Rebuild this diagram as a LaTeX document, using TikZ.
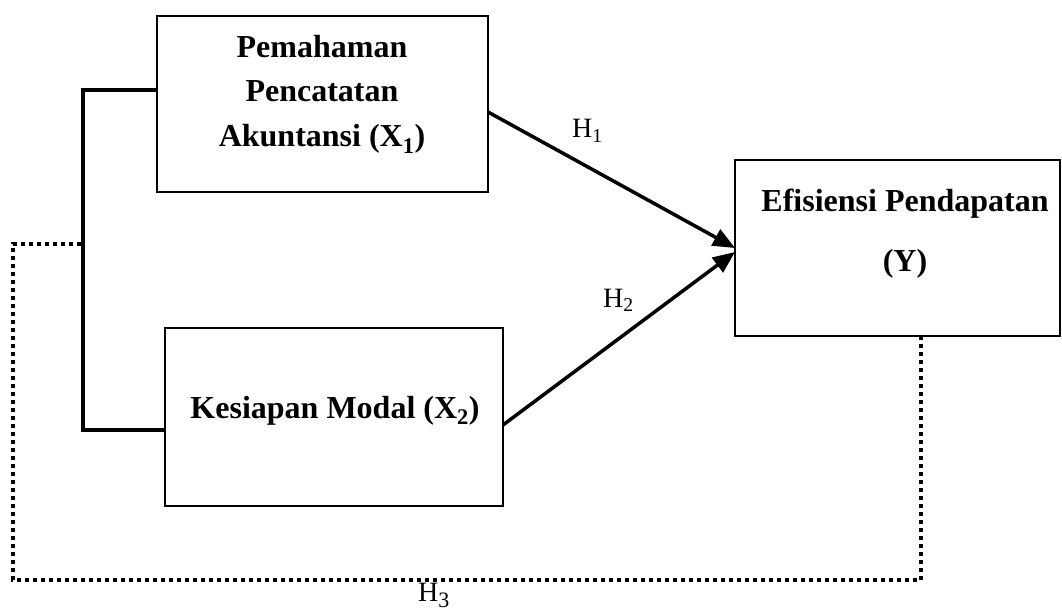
\documentclass[tikz,border=0pt]{standalone}
\usepackage{fontspec}
\setmainfont{Liberation Serif}
\usetikzlibrary{arrows.meta}
\begin{document}
\begin{tikzpicture}[x=1pt,y=-1pt,
  box/.style={draw,line width=2.5pt,minimum width=#1,inner sep=0pt,outer sep=0pt},
  boxtxt/.style={anchor=base,inner sep=0pt,font=\fontsize{32}{32}\selectfont\bfseries},
  hyp/.style={anchor=base west,inner sep=0pt,font=\fontsize{28}{28}\selectfont},
  conn/.style={line width=3.5pt},
  arr/.style={line width=3.5pt,-{Triangle[length=22pt,width=18pt]}},
  dots/.style={line width=4pt,dash pattern=on 4pt off 4pt}]
\useasboundingbox (0,0) rectangle (1062,612);
% boxes
\node[box=331pt,minimum height=176pt] (x1) at (322.5,104) {};
\node[box=338pt,minimum height=178pt] (x2) at (334,417) {};
\node[box=325pt,minimum height=176pt] (y) at (897.5,248) {};
% box texts
\node[boxtxt] (x1a) at (322,58) {Pemahaman};
\node[boxtxt] (x1b) at (322,102) {Pencatatan};
\node[boxtxt] (x1c) at (322,147) {Akuntansi (X\textsubscript{1})};
\node[boxtxt] (x2a) at (335,418) {Kesiapan Modal (X\textsubscript{2})};
\node[boxtxt] (ya) at (905,212) {Efisiensi Pendapatan};
\node[boxtxt] (yb) at (905,272) {(Y)};
% bracket
\coordinate (bt) at (83,90);
\coordinate (bb) at (83,430);
\draw[conn] ([yshift=14pt]x1.west) -- (bt) -- (bb) -- ([yshift=-13pt]x2.west);
% arrows
\draw[arr] ([yshift=-8pt]x1.east) -- (y.west);
\draw[arr] ([yshift=-8pt]x2.east) -- ([yshift=-4pt]y.west);
% dotted
\coordinate (d1) at (921,580);
\coordinate (d2) at (13,580);
\coordinate (d3) at (13,244);
\coordinate (d4) at (83,244);
\draw[dots] ([xshift=23.5pt]y.south) -- (d1) -- (d2) -- (d3) -- (d4);
% labels
\node[hyp] (h1) at (572,138) {H\textsubscript{1}};
\node[hyp] (h2) at (603,307) {H\textsubscript{2}};
\node[hyp] (h3) at (418,601) {H{\fontsize{22}{22}\selectfont\raisebox{-6pt}{3}}};
\end{tikzpicture}
\end{document}
